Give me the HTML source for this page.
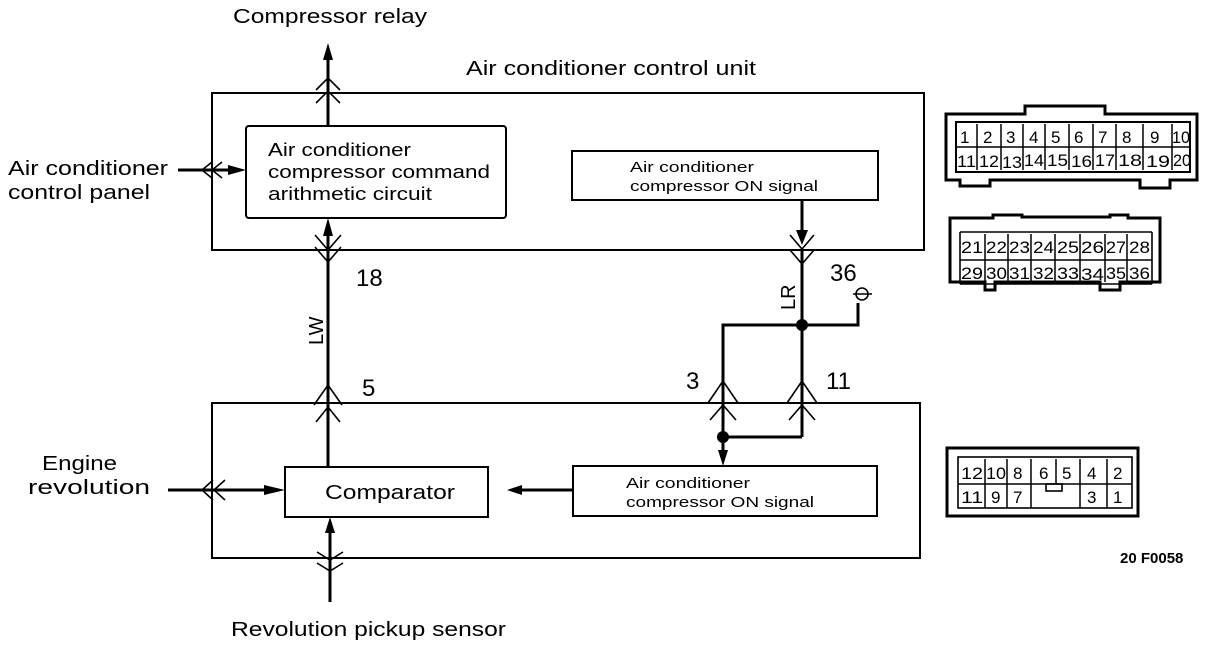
<!DOCTYPE html>
<html><head><meta charset="utf-8"><style>
html,body{margin:0;padding:0;background:#fff;}
svg{display:block;font-family:"Liberation Sans",sans-serif;}
</style></head><body>
<svg width="1216" height="646" viewBox="0 0 1216 646" xmlns="http://www.w3.org/2000/svg">
<g fill="none" stroke="#000" stroke-width="2">
<rect x="212" y="93" width="712" height="157"/>
<rect x="246" y="126" width="260" height="92" rx="3"/>
<rect x="572" y="151" width="306" height="49"/>
<rect x="212" y="403" width="708" height="155"/>
<rect x="285" y="467" width="203" height="50"/>
<rect x="573" y="466" width="304" height="50"/>
</g>
<g fill="none" stroke="#000" stroke-width="3">
<line x1="328" y1="52" x2="328" y2="126"/>
<line x1="328" y1="226" x2="328" y2="467"/>
<line x1="178" y1="170" x2="236" y2="170"/>
<line x1="168" y1="490" x2="275" y2="490"/>
<line x1="330" y1="526" x2="330" y2="602"/>
<line x1="802" y1="200" x2="802" y2="235"/>
<line x1="802" y1="250" x2="802" y2="437"/>
<polyline points="723,437 723,325 858,325 858,303"/>
<line x1="723" y1="437" x2="802" y2="437"/>
<line x1="723" y1="437" x2="723" y2="455"/>
<line x1="518" y1="490" x2="573" y2="490"/>
</g>
<g fill="#000">
<polygon points="328,43 323,60 333,60"/>
<polygon points="328,218 323,236 333,236"/>
<polygon points="246,170 228,165 228,175"/>
<polygon points="285,490 264,485 264,495"/>
<polygon points="330,517 325,533 335,533"/>
<polygon points="802,245 796,230 808,230"/>
<polygon points="723,466 718,450 728,450"/>
<polygon points="507,490 522,485 522,495"/>
<circle cx="802" cy="325" r="6"/>
<circle cx="723" cy="437" r="6"/>
</g>
<g fill="none" stroke="#000" stroke-width="1.6">
<polyline points="316,90 328,78 340,90"/><polyline points="316,103 328,91 340,103"/>
<polyline points="315,235 328,250 341,235"/><polyline points="315,247 328,262 341,247"/>
<polyline points="212,162 202,170 212,178"/><polyline points="222,162 212,170 222,178"/>
<polyline points="314,405 328,385 342,405"/><polyline points="316,422 328,407 340,422"/>
<polyline points="213,480 202,490 213,500"/><polyline points="225,480 214,490 225,500"/>
<polyline points="317,552 330,560 343,552"/><polyline points="317,563 330,571 343,563"/>
<polyline points="790,235 802,249 814,235"/><polyline points="790,250 802,264 814,250"/>
<polyline points="708,403 723,381 738,403"/><polyline points="710,420 723,405 736,420"/>
<polyline points="787,403 802,381 817,403"/><polyline points="789,420 802,405 815,420"/>
<circle cx="862" cy="294" r="6"/><line x1="853" y1="294" x2="872" y2="294"/>
</g>
<g font-size="20" fill="#000">
<text x="233" y="23" textLength="194" lengthAdjust="spacingAndGlyphs">Compressor relay</text>
<text x="466" y="75" textLength="290" lengthAdjust="spacingAndGlyphs">Air conditioner control unit</text>
<text x="8" y="175" textLength="160" lengthAdjust="spacingAndGlyphs">Air conditioner</text>
<text x="8" y="199" textLength="142" lengthAdjust="spacingAndGlyphs">control panel</text>
<text x="42" y="470" textLength="75" lengthAdjust="spacingAndGlyphs">Engine</text>
<text x="28" y="494" textLength="122" lengthAdjust="spacingAndGlyphs">revolution</text>
<text x="231" y="636" textLength="275" lengthAdjust="spacingAndGlyphs">Revolution pickup sensor</text>
<text x="268" y="156" font-size="18" textLength="143" lengthAdjust="spacingAndGlyphs">Air conditioner</text>
<text x="268" y="178" font-size="18" textLength="222" lengthAdjust="spacingAndGlyphs">compressor command</text>
<text x="268" y="200" font-size="18" textLength="164" lengthAdjust="spacingAndGlyphs">arithmetic circuit</text>
<text x="630" y="172" font-size="15" textLength="124" lengthAdjust="spacingAndGlyphs">Air conditioner</text>
<text x="630" y="191" font-size="15" textLength="188" lengthAdjust="spacingAndGlyphs">compressor ON signal</text>
<text x="626" y="488" font-size="15" textLength="124" lengthAdjust="spacingAndGlyphs">Air conditioner</text>
<text x="626" y="507" font-size="15" textLength="188" lengthAdjust="spacingAndGlyphs">compressor ON signal</text>
<text x="325" y="499" textLength="130" lengthAdjust="spacingAndGlyphs">Comparator</text>
<text x="356" y="286" font-size="24">18</text>
<text x="362" y="396" font-size="24">5</text>
<text x="686" y="389" font-size="24">3</text>
<text x="826" y="389" font-size="24">11</text>
<text x="830" y="281" font-size="24">36</text>
<text transform="translate(323,345) rotate(-90)" font-size="20">LW</text>
<text transform="translate(795,310) rotate(-90)" font-size="20">LR</text>
<text x="1120" y="563" font-size="15" font-weight="bold">20 F0058</text>
</g>
<g fill="none" stroke="#000" stroke-width="3">
<path d="M946 114 H1025 V106 H1105 V114 H1197 V180 H1170 V188 H1140 V180 H990 V186 H960 V180 H946 Z"/>
<path d="M956 122 H1190 V172 H956 Z" stroke-width="2"/>
<path d="M950 218 H993 V215 H1022 V217 H1110 V215 H1128 V218 H1160 V282 H1120 V290 H1100 V282 H995 V290 H985 V282 H950 Z"/>
<path d="M947 448 H1138 V516 H947 Z"/>
</g>
<g fill="none" stroke="#000" stroke-width="1.6">
<line x1="956" y1="147" x2="1190" y2="147"/>
<line x1="960" y1="232" x2="1152" y2="232"/><line x1="960" y1="260" x2="1152" y2="260"/><line x1="960" y1="284" x2="1152" y2="284"/>
<line x1="960" y1="232" x2="960" y2="284"/><line x1="1152" y1="232" x2="1152" y2="284"/>
<rect x="958" y="457" width="174" height="51"/>
<line x1="958" y1="484" x2="1132" y2="484"/>
<rect x="1046" y="484" width="16" height="7"/>
</g>
<g stroke="#000" stroke-width="1.5">
<line x1="977" y1="124" x2="977" y2="170"/><line x1="1001" y1="124" x2="1001" y2="170"/><line x1="1023" y1="124" x2="1023" y2="170"/><line x1="1045" y1="124" x2="1045" y2="170"/><line x1="1069" y1="124" x2="1069" y2="170"/><line x1="1093" y1="124" x2="1093" y2="170"/><line x1="1116" y1="124" x2="1116" y2="170"/><line x1="1143" y1="124" x2="1143" y2="170"/><line x1="1172" y1="124" x2="1172" y2="170"/>
<line x1="985" y1="234" x2="985" y2="282"/><line x1="1008" y1="234" x2="1008" y2="282"/><line x1="1031" y1="234" x2="1031" y2="282"/><line x1="1055" y1="234" x2="1055" y2="282"/><line x1="1080" y1="234" x2="1080" y2="282"/><line x1="1105" y1="234" x2="1105" y2="282"/><line x1="1127" y1="234" x2="1127" y2="282"/>
<line x1="985" y1="459" x2="985" y2="508"/><line x1="1007" y1="459" x2="1007" y2="508"/><line x1="1031" y1="459" x2="1031" y2="508"/><line x1="1080" y1="459" x2="1080" y2="508"/><line x1="1107" y1="459" x2="1107" y2="508"/><line x1="1056" y1="459" x2="1056" y2="484"/>
</g>
<g font-size="17" fill="#000">
<text x="960" y="143">1</text><text x="983" y="143">2</text><text x="1006" y="143">3</text><text x="1029" y="143">4</text><text x="1051" y="143">5</text><text x="1074" y="143">6</text><text x="1098" y="143">7</text><text x="1122" y="143">8</text><text x="1150" y="143">9</text><text x="1172" y="143" textLength="18" lengthAdjust="spacingAndGlyphs">10</text>
<text x="957" y="167" textLength="19" lengthAdjust="spacingAndGlyphs">11</text><text x="979" y="167" textLength="20" lengthAdjust="spacingAndGlyphs">12</text><text x="1002" y="168" textLength="20" lengthAdjust="spacingAndGlyphs">13</text><text x="1024" y="166" textLength="20" lengthAdjust="spacingAndGlyphs">14</text><text x="1047" y="166" textLength="21" lengthAdjust="spacingAndGlyphs">15</text><text x="1071" y="167" textLength="21" lengthAdjust="spacingAndGlyphs">16</text><text x="1095" y="166" textLength="20" lengthAdjust="spacingAndGlyphs">17</text><text x="1118" y="166" textLength="24" lengthAdjust="spacingAndGlyphs">18</text><text x="1146" y="167" textLength="24" lengthAdjust="spacingAndGlyphs">19</text><text x="1173" y="166" textLength="18" lengthAdjust="spacingAndGlyphs">20</text>
<text x="961" y="253" textLength="22" lengthAdjust="spacingAndGlyphs">21</text><text x="986" y="253" textLength="21" lengthAdjust="spacingAndGlyphs">22</text><text x="1009" y="253" textLength="21" lengthAdjust="spacingAndGlyphs">23</text><text x="1033" y="253" textLength="21" lengthAdjust="spacingAndGlyphs">24</text><text x="1057" y="253" textLength="22" lengthAdjust="spacingAndGlyphs">25</text><text x="1081" y="253" textLength="23" lengthAdjust="spacingAndGlyphs">26</text><text x="1106" y="253" textLength="20" lengthAdjust="spacingAndGlyphs">27</text><text x="1129" y="253" textLength="21" lengthAdjust="spacingAndGlyphs">28</text>
<text x="961" y="279" textLength="22" lengthAdjust="spacingAndGlyphs">29</text><text x="986" y="279" textLength="21" lengthAdjust="spacingAndGlyphs">30</text><text x="1009" y="279" textLength="21" lengthAdjust="spacingAndGlyphs">31</text><text x="1033" y="279" textLength="21" lengthAdjust="spacingAndGlyphs">32</text><text x="1057" y="279" textLength="22" lengthAdjust="spacingAndGlyphs">33</text><text x="1081" y="280" textLength="23" lengthAdjust="spacingAndGlyphs">34</text><text x="1106" y="279" textLength="20" lengthAdjust="spacingAndGlyphs">35</text><text x="1129" y="279" textLength="21" lengthAdjust="spacingAndGlyphs">36</text>
<text x="961" y="479" textLength="22" lengthAdjust="spacingAndGlyphs">12</text><text x="986" y="479" textLength="20" lengthAdjust="spacingAndGlyphs">10</text><text x="1013" y="479">8</text><text x="1039" y="479">6</text><text x="1062" y="479">5</text><text x="1087" y="479">4</text><text x="1113" y="479">2</text>
<text x="961" y="503" textLength="22" lengthAdjust="spacingAndGlyphs">11</text><text x="991" y="503">9</text><text x="1013" y="503">7</text><text x="1087" y="503">3</text><text x="1113" y="503">1</text>
</g>
</svg>
</body></html>
